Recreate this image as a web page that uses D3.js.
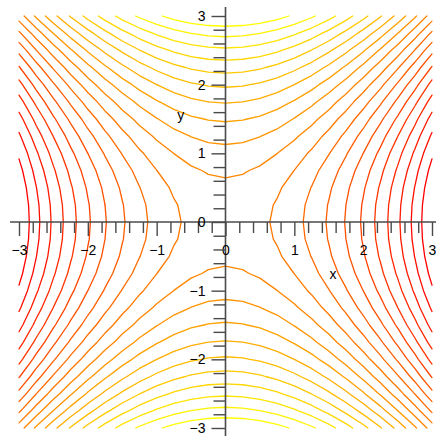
<!DOCTYPE html>
<html>
<head>
<meta charset="utf-8">
<script src="https://cdn.jsdelivr.net/npm/d3@7"></script>
<style>
  html, body { margin: 0; padding: 0; background: #fff; }
  svg { display: block; }
</style>
</head>
<body>
<svg id="chart" width="436" height="436"></svg>
<script>
// ---- data ----
const xDomain = [-3, 3];
const yDomain = [-3, 3];
const gridSize = 25;                 // sample points per axis
const levels = [-8.14, -7.29, -6.43, -5.57, -4.71, -3.86, -3.0, -2.14, -1.29, -0.43,
                 0.43, 1.29, 2.14, 3.0, 3.86, 4.71, 5.57, 6.43, 7.29, 8.14];
const xMajorTicks = [-3, -2, -1, 0, 1, 2, 3];
const yMajorTicks = [-3, -2, -1, 0, 1, 2, 3];
const xTickLabels = ["\u22123", "\u22122", "\u22121", "0", "1", "2", "3"];
const yTickLabels = ["\u22123", "\u22122", "\u22121", "0", "1", "2", "3"];
const minorStep = 0.2;
const colorLow = "#ffff00", colorHigh = "#ff0000";
function f(x, y) { return x * x - y * y; }

// ---- layout ----
const svg = d3.select("#chart");
const x = d3.scaleLinear().domain(xDomain).range([19, 432]);
const y = d3.scaleLinear().domain(yDomain).range([428, 16]);
const color = d3.scaleLinear().domain([0, levels.length - 1])
  .range([colorLow, colorHigh]).interpolate(d3.interpolateRgb);

// grid
const gx = d3.range(gridSize).map(i => xDomain[0] + (xDomain[1] - xDomain[0]) * i / (gridSize - 1));
const gy = d3.range(gridSize).map(j => yDomain[0] + (yDomain[1] - yDomain[0]) * j / (gridSize - 1));
const vals = gy.map(yy => gx.map(xx => f(xx, yy)));

// marching squares -> segments in data coords
function isolines(L) {
  const segs = [];
  const interp = (x0, y0, v0, x1, y1, v1) => {
    const t = (L - v0) / (v1 - v0);
    return [x0 + t * (x1 - x0), y0 + t * (y1 - y0)];
  };
  for (let j = 0; j < gridSize - 1; j++) {
    for (let i = 0; i < gridSize - 1; i++) {
      const x0 = gx[i], x1 = gx[i + 1], y0 = gy[j], y1 = gy[j + 1];
      const a = vals[j][i], b = vals[j][i + 1], c = vals[j + 1][i + 1], d = vals[j + 1][i];
      // corners: a(x0,y0) b(x1,y0) c(x1,y1) d(x0,y1)
      const pts = [];
      const edges = [
        [a, b, () => interp(x0, y0, a, x1, y0, b)],
        [b, c, () => interp(x1, y0, b, x1, y1, c)],
        [c, d, () => interp(x1, y1, c, x0, y1, d)],
        [d, a, () => interp(x0, y1, d, x0, y0, a)]
      ];
      edges.forEach(([p, q, fn]) => { if ((p >= L) !== (q >= L)) pts.push(fn()); });
      if (pts.length === 2) segs.push(pts);
      else if (pts.length === 4) {
        const center = (a + b + c + d) / 4;
        if ((center >= L) === (a >= L)) { segs.push([pts[0], pts[1]]); segs.push([pts[2], pts[3]]); }
        else { segs.push([pts[0], pts[3]]); segs.push([pts[1], pts[2]]); }
      }
    }
  }
  return segs;
}

// join segments into polylines
function joinSegments(segs) {
  const key = p => p[0].toFixed(6) + "," + p[1].toFixed(6);
  const used = new Array(segs.length).fill(false);
  const map = new Map();
  segs.forEach((s, k) => {
    [0, 1].forEach(e => {
      const kk = key(s[e]);
      if (!map.has(kk)) map.set(kk, []);
      map.get(kk).push([k, e]);
    });
  });
  const lines = [];
  for (let k = 0; k < segs.length; k++) {
    if (used[k]) continue;
    used[k] = true;
    let line = [segs[k][0], segs[k][1]];
    // extend forward
    const extend = (arr) => {
      let cont = true;
      while (cont) {
        cont = false;
        const end = arr[arr.length - 1];
        const list = map.get(key(end)) || [];
        for (const [m, e] of list) {
          if (!used[m]) { used[m] = true; arr.push(segs[m][1 - e]); cont = true; break; }
        }
      }
    };
    extend(line);
    line.reverse();
    extend(line);
    lines.push(line);
  }
  return lines;
}

const lineGen = d3.line().x(d => x(d[0])).y(d => y(d[1]));

const gC = svg.append("g").attr("fill", "none").attr("stroke-width", 1.3)
  .attr("stroke-linejoin", "round").attr("stroke-linecap", "round");
levels.forEach((L, idx) => {
  const lines = joinSegments(isolines(L));
  lines.forEach(pl => {
    gC.append("path").attr("d", lineGen(pl)).attr("stroke", color(idx));
  });
});

// ---- axes ----
const axisColor = "#4a4a4a";
const font = "Liberation Sans, Arial, Helvetica, sans-serif";
const x0 = x(0), y0 = y(0);

const xMinor = d3.range(xDomain[0], xDomain[1] + 1e-9, minorStep).map(v => +v.toFixed(2))
  .filter(v => Math.abs(v - Math.round(v)) > 1e-6);
const yMinor = d3.range(yDomain[0], yDomain[1] + 1e-9, minorStep).map(v => +v.toFixed(2))
  .filter(v => Math.abs(v - Math.round(v)) > 1e-6);

// axis lines
svg.append("line").attr("x1", x(-3.13)).attr("x2", x(3.06)).attr("y1", y0).attr("y2", y0)
  .attr("stroke", axisColor).attr("stroke-width", 1.6);
svg.append("line").attr("x1", x0).attr("x2", x0).attr("y1", y(3.13)).attr("y2", y(-3.13))
  .attr("stroke", axisColor).attr("stroke-width", 1.6);

// x axis
const gxMinor = svg.append("g").attr("transform", `translate(0,${y0})`)
  .call(d3.axisBottom(x).tickValues(xMinor).tickSize(11).tickFormat(""));
const gxMajor = svg.append("g").attr("transform", `translate(0,${y0})`)
  .call(d3.axisBottom(x).tickValues(xMajorTicks).tickSize(14).tickPadding(9)
    .tickFormat((d, i) => xTickLabels[i]));
// y axis
const gyMinor = svg.append("g").attr("transform", `translate(${x0},0)`)
  .call(d3.axisLeft(y).tickValues(yMinor).tickSize(12).tickFormat(""));
const gyMajor = svg.append("g").attr("transform", `translate(${x0},0)`)
  .call(d3.axisLeft(y).tickValues(yMajorTicks).tickSize(14).tickPadding(6)
    .tickFormat((d, i) => yTickLabels[i]));

[gxMinor, gxMajor, gyMinor, gyMajor].forEach(g => {
  g.select(".domain").remove();
  g.selectAll(".tick line").attr("stroke", axisColor).attr("stroke-width", 1.4);
  g.selectAll(".tick text").attr("fill", "#000").style("font-family", font).style("font-size", "14px");
});

// axis titles
svg.append("text").attr("x", x(1.56)).attr("y", y(-0.76)).attr("dy", "0.32em")
  .attr("text-anchor", "middle").style("font-family", font).style("font-size", "14px").text("x");
svg.append("text").attr("x", x(-0.65)).attr("y", y(1.53)).attr("dy", "0.2em")
  .attr("text-anchor", "middle").style("font-family", font).style("font-size", "14px").text("y");
</script>
</body>
</html>
